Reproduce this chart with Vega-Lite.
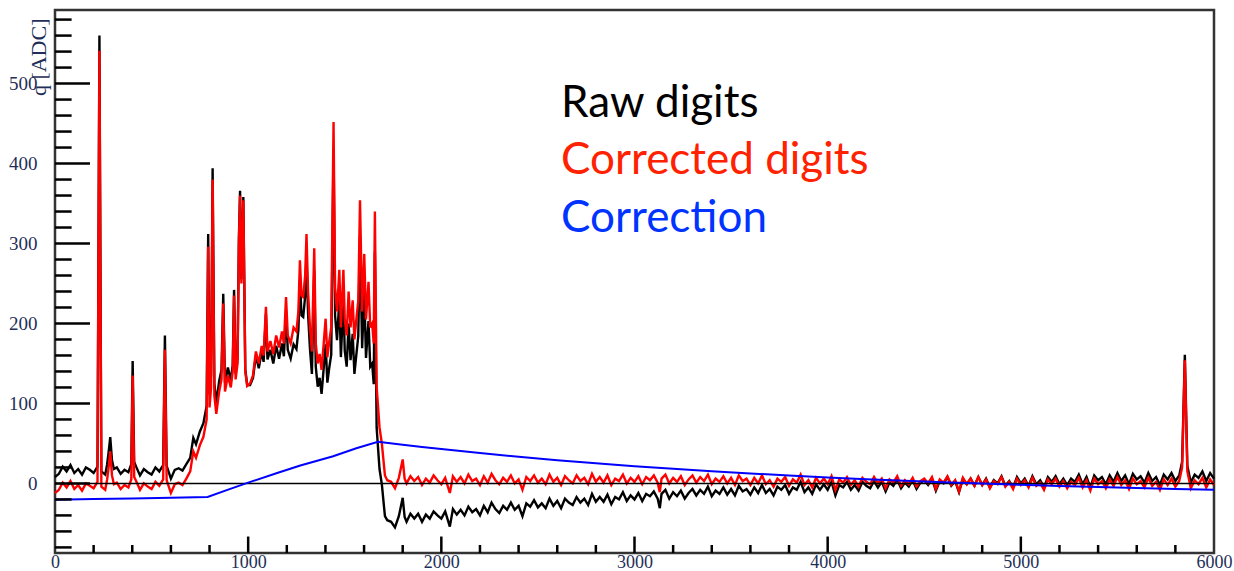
{
"$schema": "https://vega.github.io/schema/vega-lite/v6.json",
"width": 1159, "height": 543,
"autosize": {"type": "none"},
"padding": {"left": 55, "top": 10, "right": 20, "bottom": 18},
"background": "white",
"datasets": {
"sig": [
{"x":0,"raw":8,"cor":-12},{"x":20,"raw":12,"cor":-8},{"x":40,"raw":21,"cor":1},{"x":60,"raw":15,"cor":-5},{"x":80,"raw":23,"cor":3},{"x":100,"raw":13,"cor":-7},{"x":120,"raw":18,"cor":-2},{"x":140,"raw":11,"cor":-9},{"x":160,"raw":20,"cor":0},{"x":180,"raw":17,"cor":-3},{"x":200,"raw":13,"cor":-6},{"x":220,"raw":21,"cor":2},{"x":230,"raw":560,"cor":541},{"x":240,"raw":15,"cor":-4},{"x":260,"raw":11,"cor":-8},{"x":270,"raw":24,"cor":5},{"x":280,"raw":44,"cor":25},{"x":286,"raw":58,"cor":40},{"x":295,"raw":29,"cor":10},{"x":305,"raw":18,"cor":-1},{"x":320,"raw":20,"cor":1},{"x":340,"raw":12,"cor":-7},{"x":360,"raw":17,"cor":-2},{"x":380,"raw":14,"cor":-5},{"x":395,"raw":24,"cor":5},{"x":402,"raw":153,"cor":135},{"x":410,"raw":27,"cor":8},{"x":420,"raw":21,"cor":3},{"x":440,"raw":10,"cor":-8},{"x":460,"raw":18,"cor":0},{"x":480,"raw":14,"cor":-4},{"x":500,"raw":11,"cor":-7},{"x":520,"raw":20,"cor":2},{"x":540,"raw":15,"cor":-3},{"x":560,"raw":23,"cor":5},{"x":569,"raw":185,"cor":167},{"x":578,"raw":22,"cor":4},{"x":600,"raw":6,"cor":-12},{"x":620,"raw":17,"cor":-1},{"x":640,"raw":19,"cor":1},{"x":660,"raw":16,"cor":-2},{"x":680,"raw":24,"cor":6},{"x":700,"raw":32,"cor":15},{"x":716,"raw":57,"cor":40},{"x":730,"raw":49,"cor":32},{"x":750,"raw":65,"cor":48},{"x":768,"raw":75,"cor":58},{"x":785,"raw":97,"cor":80},{"x":793,"raw":312,"cor":296},{"x":800,"raw":111,"cor":95},{"x":808,"raw":136,"cor":120},{"x":816,"raw":394,"cor":380},{"x":825,"raw":125,"cor":110},{"x":835,"raw":101,"cor":87},{"x":850,"raw":128,"cor":115},{"x":862,"raw":142,"cor":130},{"x":871,"raw":237,"cor":225},{"x":880,"raw":126,"cor":115},{"x":895,"raw":145,"cor":135},{"x":910,"raw":129,"cor":120},{"x":920,"raw":148,"cor":140},{"x":927,"raw":242,"cor":235},{"x":935,"raw":137,"cor":130},{"x":945,"raw":156,"cor":150},{"x":952,"raw":306,"cor":300},{"x":958,"raw":366,"cor":360},{"x":965,"raw":255,"cor":250},{"x":975,"raw":358,"cor":354},{"x":985,"raw":143,"cor":140},{"x":995,"raw":123,"cor":122},
{"x":1010,"raw":123,"cor":125},{"x":1025,"raw":132,"cor":135},{"x":1040,"raw":160,"cor":165},{"x":1055,"raw":144,"cor":150},{"x":1070,"raw":165,"cor":172},{"x":1080,"raw":152,"cor":160},{"x":1092,"raw":212,"cor":221},{"x":1100,"raw":155,"cor":165},{"x":1115,"raw":167,"cor":178},{"x":1130,"raw":150,"cor":162},{"x":1145,"raw":172,"cor":185},{"x":1160,"raw":156,"cor":170},{"x":1175,"raw":175,"cor":190},{"x":1185,"raw":159,"cor":175},{"x":1196,"raw":216,"cor":233},{"x":1205,"raw":167,"cor":185},{"x":1220,"raw":156,"cor":175},{"x":1235,"raw":174,"cor":195},{"x":1250,"raw":168,"cor":190},{"x":1260,"raw":192,"cor":215},{"x":1268,"raw":255,"cor":279},{"x":1276,"raw":210,"cor":235},{"x":1285,"raw":208,"cor":233},{"x":1295,"raw":234,"cor":260},{"x":1302,"raw":286,"cor":312},{"x":1310,"raw":213,"cor":240},{"x":1320,"raw":168,"cor":195},{"x":1330,"raw":137,"cor":165},{"x":1342,"raw":266,"cor":294},{"x":1350,"raw":146,"cor":175},{"x":1360,"raw":121,"cor":150},{"x":1370,"raw":132,"cor":162},{"x":1380,"raw":112,"cor":142},{"x":1390,"raw":141,"cor":172},{"x":1401,"raw":174,"cor":206},{"x":1410,"raw":126,"cor":158},{"x":1420,"raw":145,"cor":178},{"x":1430,"raw":161,"cor":195},{"x":1442,"raw":418,"cor":452},{"x":1450,"raw":210,"cor":245},{"x":1460,"raw":179,"cor":215},{"x":1472,"raw":230,"cor":267},{"x":1480,"raw":158,"cor":195},{"x":1493,"raw":229,"cor":267},{"x":1500,"raw":166,"cor":205},{"x":1510,"raw":146,"cor":185},{"x":1520,"raw":200,"cor":240},{"x":1530,"raw":154,"cor":195},{"x":1541,"raw":187,"cor":229},{"x":1550,"raw":137,"cor":180},{"x":1560,"raw":161,"cor":205},{"x":1570,"raw":184,"cor":228},{"x":1579,"raw":309,"cor":354},{"x":1590,"raw":169,"cor":215},{"x":1601,"raw":240,"cor":287},{"x":1610,"raw":157,"cor":205},{"x":1623,"raw":203,"cor":252},{"x":1632,"raw":146,"cor":195},{"x":1642,"raw":150,"cor":200},{"x":1650,"raw":124,"cor":175},{"x":1656,"raw":289,"cor":340},{"x":1665,"raw":70,"cor":121},{"x":1680,"raw":18,"cor":70},{"x":1692,"raw":-1,"cor":50},{"x":1708,"raw":-41,"cor":10},{"x":1720,"raw":-46,"cor":4},
{"x":1740,"raw":-48,"cor":2},{"x":1760,"raw":-55,"cor":-6},{"x":1780,"raw":-41,"cor":7},{"x":1800,"raw":-18,"cor":30},{"x":1810,"raw":-42,"cor":6},{"x":1820,"raw":-48,"cor":0},{"x":1840,"raw":-38,"cor":9},{"x":1860,"raw":-44,"cor":3},{"x":1880,"raw":-38,"cor":8},{"x":1900,"raw":-48,"cor":-2},{"x":1920,"raw":-39,"cor":6},{"x":1940,"raw":-44,"cor":1},{"x":1960,"raw":-35,"cor":10},{"x":1980,"raw":-40,"cor":4},{"x":2000,"raw":-44,"cor":-1},{"x":2020,"raw":-35,"cor":7},{"x":2044,"raw":-54,"cor":-12},{"x":2060,"raw":-32,"cor":9},{"x":2080,"raw":-39,"cor":2},{"x":2100,"raw":-33,"cor":8},{"x":2120,"raw":-40,"cor":0},{"x":2140,"raw":-29,"cor":11},{"x":2160,"raw":-36,"cor":3},{"x":2180,"raw":-32,"cor":6},{"x":2200,"raw":-40,"cor":-2},{"x":2220,"raw":-28,"cor":9},{"x":2240,"raw":-36,"cor":1},{"x":2260,"raw":-24,"cor":12},{"x":2280,"raw":-32,"cor":4},{"x":2300,"raw":-37,"cor":-1},{"x":2320,"raw":-28,"cor":7},{"x":2340,"raw":-33,"cor":2},{"x":2360,"raw":-24,"cor":10},{"x":2380,"raw":-33,"cor":0},{"x":2400,"raw":-28,"cor":5},{"x":2420,"raw":-41,"cor":-8},{"x":2440,"raw":-25,"cor":8},{"x":2460,"raw":-29,"cor":3},{"x":2480,"raw":-21,"cor":10},{"x":2500,"raw":-30,"cor":1},{"x":2520,"raw":-25,"cor":6},{"x":2540,"raw":-31,"cor":-1},{"x":2560,"raw":-19,"cor":11},{"x":2580,"raw":-28,"cor":2},{"x":2600,"raw":-22,"cor":7},{"x":2620,"raw":-31,"cor":-2},{"x":2640,"raw":-19,"cor":9},{"x":2660,"raw":-24,"cor":4},{"x":2680,"raw":-27,"cor":0},{"x":2700,"raw":-17,"cor":10},{"x":2720,"raw":-24,"cor":3},{"x":2740,"raw":-19,"cor":7},{"x":2760,"raw":-27,"cor":-1},{"x":2780,"raw":-13,"cor":12},{"x":2800,"raw":-23,"cor":2},{"x":2820,"raw":-17,"cor":8},{"x":2840,"raw":-23,"cor":1},{"x":2860,"raw":-14,"cor":10},{"x":2880,"raw":-26,"cor":-2},{"x":2900,"raw":-17,"cor":6},{"x":2920,"raw":-20,"cor":3},{"x":2940,"raw":-11,"cor":11},{"x":2960,"raw":-22,"cor":0},{"x":2980,"raw":-15,"cor":7},{"x":3000,"raw":-20,"cor":2},{"x":3020,"raw":-12,"cor":9},{"x":3040,"raw":-22,"cor":-1},{"x":3060,"raw":-13,"cor":8},{"x":3080,"raw":-16,"cor":4},{"x":3100,"raw":-10,"cor":10},{"x":3120,"raw":-19,"cor":1},{"x":3131,"raw":-31,"cor":-11},{"x":3140,"raw":-13,"cor":6},{"x":3160,"raw":-8,"cor":11},{"x":3180,"raw":-19,"cor":0},{"x":3200,"raw":-11,"cor":7},{"x":3220,"raw":-16,"cor":2},{"x":3240,"raw":-9,"cor":9},{"x":3260,"raw":-19,"cor":-2},{"x":3280,"raw":-12,"cor":5},{"x":3300,"raw":-7,"cor":10},{"x":3320,"raw":-15,"cor":1},{"x":3340,"raw":-8,"cor":8},{"x":3360,"raw":-13,"cor":3},{"x":3380,"raw":-4,"cor":11},{"x":3400,"raw":-16,"cor":-1},{"x":3420,"raw":-9,"cor":6},{"x":3440,"raw":-13,"cor":2},{"x":3460,"raw":-5,"cor":9},{"x":3480,"raw":-14,"cor":0},{"x":3500,"raw":-7,"cor":7},{"x":3520,"raw":-15,"cor":-2},{"x":3540,"raw":-3,"cor":10},{"x":3560,"raw":-10,"cor":3},{"x":3580,"raw":-7,"cor":6},
{"x":3600,"raw":-14,"cor":-2},{"x":3620,"raw":-5,"cor":7},{"x":3640,"raw":-12,"cor":0},{"x":3660,"raw":-2,"cor":10},{"x":3680,"raw":-12,"cor":-1},{"x":3700,"raw":-7,"cor":4},{"x":3720,"raw":-15,"cor":-4},{"x":3740,"raw":-4,"cor":6},{"x":3760,"raw":-8,"cor":2},{"x":3780,"raw":-2,"cor":8},{"x":3800,"raw":-13,"cor":-3},{"x":3820,"raw":-5,"cor":5},{"x":3840,"raw":-8,"cor":1},{"x":3860,"raw":2,"cor":11},{"x":3880,"raw":-11,"cor":-2},{"x":3900,"raw":-5,"cor":4},{"x":3920,"raw":-13,"cor":-5},{"x":3940,"raw":-1,"cor":7},{"x":3960,"raw":-8,"cor":0},{"x":3980,"raw":-1,"cor":6},{"x":4000,"raw":-8,"cor":-1},{"x":4020,"raw":2,"cor":9},{"x":4040,"raw":-15,"cor":-8},{"x":4060,"raw":-2,"cor":5},{"x":4080,"raw":-5,"cor":1},{"x":4100,"raw":2,"cor":8},{"x":4120,"raw":-8,"cor":-2},{"x":4140,"raw":-2,"cor":4},{"x":4160,"raw":-9,"cor":-4},{"x":4180,"raw":2,"cor":7},{"x":4200,"raw":-3,"cor":2},{"x":4220,"raw":-6,"cor":-1},{"x":4240,"raw":3,"cor":8},{"x":4260,"raw":-5,"cor":0},{"x":4280,"raw":2,"cor":6},{"x":4300,"raw":-10,"cor":-6},{"x":4320,"raw":1,"cor":5},{"x":4340,"raw":-3,"cor":1},{"x":4360,"raw":5,"cor":9},{"x":4380,"raw":-6,"cor":-3},{"x":4400,"raw":1,"cor":4},{"x":4420,"raw":-4,"cor":-1},{"x":4440,"raw":4,"cor":7},{"x":4460,"raw":-7,"cor":-4},{"x":4480,"raw":1,"cor":3},{"x":4500,"raw":4,"cor":6},{"x":4520,"raw":-2,"cor":0},{"x":4540,"raw":6,"cor":8},{"x":4560,"raw":-9,"cor":-7},{"x":4580,"raw":3,"cor":5},{"x":4600,"raw":0,"cor":1},{"x":4620,"raw":8,"cor":9},{"x":4640,"raw":-3,"cor":-2},{"x":4660,"raw":3,"cor":4},{"x":4680,"raw":-11,"cor":-10},{"x":4700,"raw":6,"cor":7},{"x":4720,"raw":-1,"cor":-1},{"x":4740,"raw":6,"cor":6},{"x":4760,"raw":-3,"cor":-3},{"x":4780,"raw":8,"cor":8},{"x":4800,"raw":-2,"cor":-2},
{"x":4820,"raw":6,"cor":5},{"x":4840,"raw":-5,"cor":-6},{"x":4860,"raw":4,"cor":3},{"x":4880,"raw":0,"cor":-1},{"x":4900,"raw":9,"cor":8},{"x":4920,"raw":-3,"cor":-4},{"x":4940,"raw":3,"cor":2},{"x":4960,"raw":-5,"cor":-7},{"x":4980,"raw":8,"cor":6},{"x":5000,"raw":0,"cor":-2},{"x":5020,"raw":6,"cor":4},{"x":5040,"raw":-3,"cor":-5},{"x":5060,"raw":9,"cor":7},{"x":5080,"raw":-1,"cor":-3},{"x":5100,"raw":4,"cor":1},{"x":5120,"raw":-5,"cor":-8},{"x":5140,"raw":8,"cor":5},{"x":5160,"raw":2,"cor":-1},{"x":5180,"raw":9,"cor":6},{"x":5200,"raw":-1,"cor":-4},{"x":5220,"raw":6,"cor":3},{"x":5240,"raw":-2,"cor":-6},{"x":5260,"raw":6,"cor":2},{"x":5280,"raw":2,"cor":-2},{"x":5300,"raw":11,"cor":7},{"x":5320,"raw":-1,"cor":-5},{"x":5340,"raw":8,"cor":4},{"x":5360,"raw":-5,"cor":-9},{"x":5380,"raw":10,"cor":6},{"x":5400,"raw":4,"cor":-1},{"x":5420,"raw":8,"cor":3},{"x":5440,"raw":-1,"cor":-6},{"x":5460,"raw":10,"cor":5},{"x":5480,"raw":2,"cor":-3},{"x":5500,"raw":13,"cor":8},{"x":5520,"raw":3,"cor":-2},{"x":5540,"raw":10,"cor":4},{"x":5560,"raw":-1,"cor":-7},{"x":5580,"raw":12,"cor":6},{"x":5600,"raw":5,"cor":-1},{"x":5620,"raw":9,"cor":3},{"x":5640,"raw":1,"cor":-5},{"x":5660,"raw":13,"cor":7},{"x":5680,"raw":3,"cor":-3},{"x":5700,"raw":8,"cor":2},{"x":5720,"raw":-2,"cor":-8},{"x":5740,"raw":11,"cor":5},{"x":5760,"raw":5,"cor":-2},{"x":5780,"raw":13,"cor":6},{"x":5800,"raw":3,"cor":-4},{"x":5820,"raw":10,"cor":3},{"x":5835,"raw":27,"cor":20},{"x":5849,"raw":161,"cor":154},{"x":5862,"raw":22,"cor":15},{"x":5880,"raw":1,"cor":-6},{"x":5900,"raw":11,"cor":4},{"x":5920,"raw":7,"cor":-1},{"x":5940,"raw":15,"cor":7},{"x":5960,"raw":3,"cor":-5},{"x":5980,"raw":13,"cor":5},{"x":6000,"raw":6,"cor":-2}
],
"corr": [
{"x":0,"c":-20.5},{"x":200,"c":-19.5},{"x":400,"c":-19},{"x":600,"c":-18},{"x":790,"c":-17},{"x":900,"c":-7.5},{"x":1000,"c":1},{"x":1150,"c":13},{"x":1270,"c":22.5},{"x":1440,"c":34},{"x":1560,"c":44},{"x":1672,"c":52},{"x":1800,"c":48.3},{"x":1900,"c":45.5},{"x":2000,"c":42.9},{"x":2200,"c":37.9},{"x":2400,"c":33.3},{"x":2600,"c":29.1},{"x":2800,"c":25.2},{"x":3000,"c":21.6},{"x":3200,"c":18.3},{"x":3400,"c":15.2},{"x":3600,"c":12.4},{"x":3800,"c":9.9},{"x":4000,"c":7.5},{"x":4200,"c":5.3},{"x":4400,"c":3.3},{"x":4600,"c":1.5},{"x":4800,"c":-0.2},{"x":5000,"c":-1.8},{"x":5200,"c":-3.3},{"x":5400,"c":-4.6},{"x":5600,"c":-5.8},{"x":5800,"c":-6.9},{"x":6000,"c":-8}
],
"ymaj": [{"v":0},{"v":100},{"v":200},{"v":300},{"v":400},{"v":500}],
"ymin": [{"v":-80},{"v":-60},{"v":-40},{"v":-20},{"v":20},{"v":40},{"v":60},{"v":80},{"v":120},{"v":140},{"v":160},{"v":180},{"v":220},{"v":240},{"v":260},{"v":280},{"v":320},{"v":340},{"v":360},{"v":380},{"v":420},{"v":440},{"v":460},{"v":480},{"v":520},{"v":540},{"v":560},{"v":580}],
"xmaj": [{"v":1000},{"v":2000},{"v":3000},{"v":4000},{"v":5000}],
"xmin": [{"v":200},{"v":400},{"v":600},{"v":800},{"v":1200},{"v":1400},{"v":1600},{"v":1800},{"v":2200},{"v":2400},{"v":2600},{"v":2800},{"v":3200},{"v":3400},{"v":3600},{"v":3800},{"v":4200},{"v":4400},{"v":4600},{"v":4800},{"v":5200},{"v":5400},{"v":5600},{"v":5800}]
},
"layer": [
{"data": {"name": "sig"},
 "mark": {"type": "line", "color": "#000000", "strokeWidth": 2.4},
 "encoding": {
  "x": {"field": "x", "type": "quantitative", "scale": {"domain": [0, 6000], "nice": false, "zero": false},
        "axis": {"orient": "bottom", "values": [0,1000,2000,3000,4000,5000,6000], "offset": -15, "tickSize": 15, "tickOpacity": 0, "domain": false, "labelPadding": 0, "format": "d", "labelFlush": false, "labelOverlap": false, "labelFontSize": 18, "title": null}},
  "y": {"field": "raw", "type": "quantitative", "scale": {"domain": [-87, 592], "nice": false, "zero": false},
        "axis": {"orient": "left", "values": [0,100,200,300,400,500], "offset": -12, "tickSize": 12, "tickOpacity": 0, "domain": false, "labelPadding": 18, "format": "d", "labelOverlap": false, "labelFontSize": 19,
                 "title": "q [ADC]", "titleFont": "Liberation Serif", "titleFontSize": 22, "titleFontWeight": "normal", "titleColor": "#1f2f57", "titleAngle": -90, "titleX": -29, "titleY": 8, "titleAlign": "right", "titleBaseline": "middle"}}
 }},
{"data": {"name": "sig"},
 "mark": {"type": "line", "color": "#ff0000", "strokeWidth": 2.4},
 "encoding": {
  "x": {"field": "x", "type": "quantitative", "axis": null},
  "y": {"field": "cor", "type": "quantitative", "axis": null}
 }},
{"data": {"values": [{}]},
 "mark": {"type": "rule", "color": "#000000", "strokeWidth": 1.5},
 "encoding": {"y": {"datum": 0, "type": "quantitative", "axis": null}}},
{"data": {"name": "corr"},
 "mark": {"type": "line", "color": "#0000ff", "strokeWidth": 2},
 "encoding": {
  "x": {"field": "x", "type": "quantitative", "axis": null},
  "y": {"field": "c", "type": "quantitative", "axis": null}
 }},
{"data": {"name": "ymaj"},
 "mark": {"type": "rule", "color": "#000000", "strokeWidth": 2.5},
 "encoding": {"y": {"field": "v", "type": "quantitative", "axis": null}, "x": {"datum": 0, "type": "quantitative", "axis": null}, "x2": {"datum": 181}}},
{"data": {"name": "ymin"},
 "mark": {"type": "rule", "color": "#000000", "strokeWidth": 2.5},
 "encoding": {"y": {"field": "v", "type": "quantitative", "axis": null}, "x": {"datum": 0, "type": "quantitative", "axis": null}, "x2": {"datum": 86}}},
{"data": {"name": "xmaj"},
 "mark": {"type": "rule", "color": "#000000", "strokeWidth": 2.5},
 "encoding": {"x": {"field": "v", "type": "quantitative", "axis": null}, "y": {"datum": -87, "type": "quantitative", "axis": null}, "y2": {"datum": -66.4}}},
{"data": {"name": "xmin"},
 "mark": {"type": "rule", "color": "#000000", "strokeWidth": 2.5},
 "encoding": {"x": {"field": "v", "type": "quantitative", "axis": null}, "y": {"datum": -87, "type": "quantitative", "axis": null}, "y2": {"datum": -77}}},
{"data": {"values": [{}]},
 "mark": {"type": "text", "text": "Raw digits", "font": "Lato", "fontSize": 44, "align": "left", "baseline": "alphabetic", "color": "#000000"},
 "encoding": {"x": {"datum": 2620, "type": "quantitative", "axis": null}, "y": {"datum": 458, "type": "quantitative", "axis": null}}},
{"data": {"values": [{}]},
 "mark": {"type": "text", "text": "Corrected digits", "font": "Lato", "fontSize": 44, "align": "left", "baseline": "alphabetic", "color": "#ff2200"},
 "encoding": {"x": {"datum": 2620, "type": "quantitative", "axis": null}, "y": {"datum": 387, "type": "quantitative", "axis": null}}},
{"data": {"values": [{}]},
 "mark": {"type": "text", "text": "Correction", "font": "Lato", "fontSize": 44, "align": "left", "baseline": "alphabetic", "color": "#0033ff"},
 "encoding": {"x": {"datum": 2620, "type": "quantitative", "axis": null}, "y": {"datum": 315, "type": "quantitative", "axis": null}}}
],
"resolve": {"axis": {"x": "independent", "y": "independent"}},
"config": {
 "view": {"stroke": "#333333", "strokeWidth": 2.5},
 "axis": {"grid": false, "labelFont": "Liberation Serif", "labelFontSize": 19, "labelColor": "#1f2f57"}
}
}
